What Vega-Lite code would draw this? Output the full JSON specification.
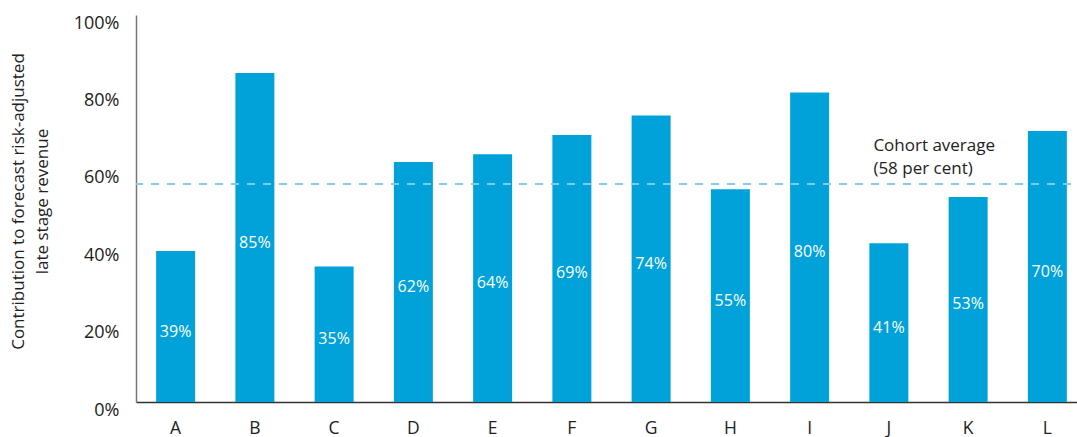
{
  "$schema": "https://vega.github.io/schema/vega-lite/v6.json",
  "autosize": {"type": "none"},
  "padding": {"left": 136, "top": 15, "right": 0, "bottom": 35},
  "width": 951,
  "height": 387,
  "background": "white",
  "config": {
    "view": {"stroke": null},
    "font": "Open Sans",
    "axis": {"labelFont": "Open Sans", "titleFont": "Open Sans"}
  },
  "data": {
    "values": [
      {"name": "A", "value": 0.39},
      {"name": "B", "value": 0.85},
      {"name": "C", "value": 0.35},
      {"name": "D", "value": 0.62},
      {"name": "E", "value": 0.64},
      {"name": "F", "value": 0.69},
      {"name": "G", "value": 0.74},
      {"name": "H", "value": 0.55},
      {"name": "I", "value": 0.80},
      {"name": "J", "value": 0.41},
      {"name": "K", "value": 0.53},
      {"name": "L", "value": 0.70}
    ]
  },
  "layer": [
    {
      "mark": {"type": "bar", "color": "#00a2d9"},
      "encoding": {
        "x": {
          "field": "name",
          "type": "nominal",
          "sort": null,
          "scale": {"paddingInner": 0.508, "paddingOuter": 0.254},
          "axis": {
            "title": null,
            "labelAngle": 0,
            "labelFontSize": 17.5,
            "labelColor": "#222222",
            "labelPadding": 17,
            "ticks": false,
            "domainColor": "#333333",
            "domainWidth": 1.5
          }
        },
        "y": {
          "field": "value",
          "type": "quantitative",
          "scale": {"domain": [0, 1], "nice": false},
          "axis": {
            "values": [0, 0.2, 0.4, 0.6, 0.8, 1],
            "format": ".0%",
            "grid": false,
            "ticks": false,
            "labelFontSize": 18,
            "labelColor": "#222222",
            "labelPadding": 17,
            "labelOffset": 8,
            "domainColor": "#777777",
            "domainWidth": 1.5,
            "title": ["Contribution to forecast risk-adjusted", "late stage revenue"],
            "titleFontSize": 17,
            "titleFontWeight": "normal",
            "titleColor": "#222222",
            "titleX": -109,
            "titleY": 186,
            "titleBaseline": "bottom",
            "titleLineHeight": 24
          }
        }
      }
    },
    {
      "mark": {"type": "text", "color": "white", "fontSize": 16, "baseline": "middle", "dy": 5},
      "encoding": {
        "x": {"field": "name", "type": "nominal", "sort": null},
        "y": {
          "field": "value",
          "type": "quantitative",
          "scale": {"domain": [0, 2], "nice": false},
          "axis": null
        },
        "text": {"field": "value", "type": "quantitative", "format": ".0%"}
      }
    },
    {
      "mark": {"type": "rule", "color": "#80ccee", "strokeWidth": 1.5, "strokeDash": [8, 8]},
      "encoding": {
        "y": {"datum": 0.563, "type": "quantitative", "scale": {"domain": [0, 1], "nice": false}, "axis": null}
      }
    },
    {
      "data": {"values": [{"name": "J", "pos": 0.683, "note": "Cohort average\n(58 per cent)"}]},
      "mark": {"type": "text", "align": "left", "baseline": "top", "fontSize": 17, "color": "#222222", "lineBreak": "\n", "lineHeight": 23, "dx": 4},
      "encoding": {
        "x": {"field": "name", "type": "nominal", "bandPosition": 0},
        "y": {"field": "pos", "type": "quantitative", "scale": {"domain": [0, 1], "nice": false}, "axis": null},
        "text": {"field": "note"}
      }
    }
  ],
  "resolve": {"scale": {"y": "independent"}}
}
